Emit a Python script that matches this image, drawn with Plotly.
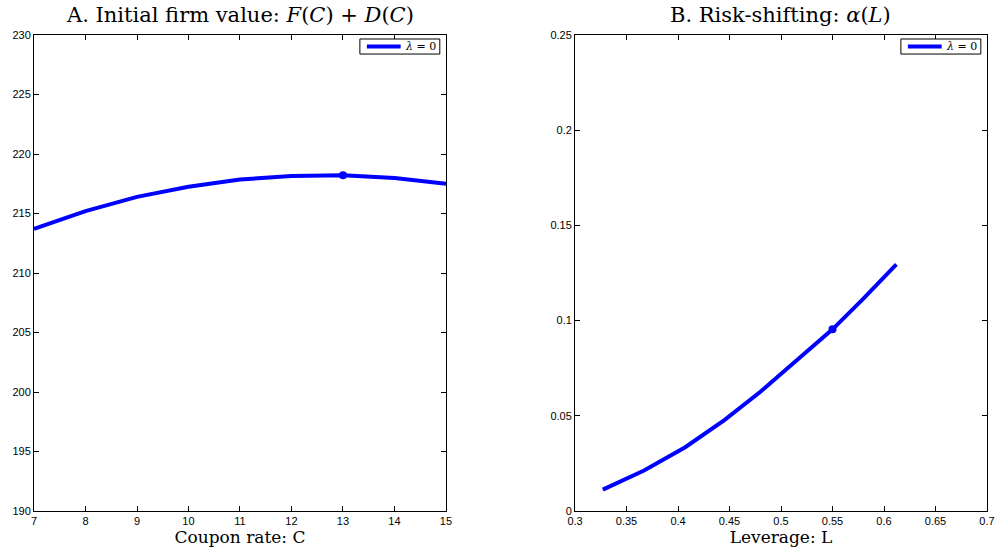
import plotly.graph_objects as go

# Panel A data
coupon = [7, 8, 9, 10, 11, 12, 13, 14, 15]
firm_value = [213.7, 215.2, 216.4, 217.25, 217.85, 218.15, 218.22, 217.98, 217.5]
opt_coupon = [13]
opt_value = [218.22]

# Panel B data
leverage = [0.327, 0.367, 0.407, 0.445, 0.48, 0.515, 0.55, 0.58, 0.612]
alpha = [0.0112, 0.0213, 0.0335, 0.0477, 0.0626, 0.0792, 0.0954, 0.1115, 0.1295]
opt_lev = [0.55]
opt_alpha = [0.0954]

legend_label = "<i>λ</i> = 0"
titles = ["A. Initial firm value: <i>F</i>(<i>C</i>) + <i>D</i>(<i>C</i>)",
          "B. Risk-shifting: <i>α</i>(<i>L</i>)"]

blue = "#0000FF"
fig = go.Figure()
fig.add_trace(go.Scatter(x=coupon, y=firm_value, mode="lines", line=dict(color=blue, width=4),
                         name=legend_label, showlegend=False, xaxis="x", yaxis="y"))
fig.add_trace(go.Scatter(x=opt_coupon, y=opt_value, mode="markers", marker=dict(color=blue, size=8),
                         showlegend=False, xaxis="x", yaxis="y"))
fig.add_trace(go.Scatter(x=leverage, y=alpha, mode="lines", line=dict(color=blue, width=4),
                         name=legend_label, showlegend=False, xaxis="x2", yaxis="y2"))
fig.add_trace(go.Scatter(x=opt_lev, y=opt_alpha, mode="markers", marker=dict(color=blue, size=8),
                         showlegend=False, xaxis="x2", yaxis="y2"))

axis_common = dict(showline=True, linecolor="black", linewidth=1, mirror="ticks", ticks="inside",
                   ticklen=5, tickcolor="black", showgrid=False, zeroline=False, automargin=False,
                   tickfont=dict(family="Liberation Sans, Arial", size=11, color="black"))
serif = "DejaVu Serif, Liberation Serif, serif"
title_font = dict(family=serif, size=17, color="black")

shapes = []
annotations = []
for xr, yr, text in [("x domain", "y domain", legend_label), ("x2 domain", "y2 domain", legend_label)]:
    shapes.append(dict(type="rect", xref=xr, yref=yr, x0=0.791, x1=0.985, y0=0.960, y1=0.9916,
                       line=dict(color="black", width=1), fillcolor="white", layer="above"))
    shapes.append(dict(type="line", xref=xr, yref=yr, x0=0.808, x1=0.890, y0=0.9758, y1=0.9758,
                       line=dict(color=blue, width=4), layer="above"))
    annotations.append(dict(text=text, xref=xr, yref=yr, x=0.895, y=0.9758, xanchor="left",
                            yanchor="middle", showarrow=False,
                            font=dict(family=serif, size=11, color="black")))

for xc, t in zip([0.2161, 0.7838], titles):
    annotations.append(dict(text=t, x=xc, y=1, xref="paper", yref="paper", xanchor="center",
                            yanchor="bottom", yshift=6, showarrow=False,
                            font=dict(family=serif, size=21, color="black")))

fig.update_layout(
    width=997, height=554,
    margin=dict(l=34, r=10, t=35, b=43, autoexpand=False),
    plot_bgcolor="white", paper_bgcolor="white",
    showlegend=False,
    xaxis=dict(domain=[0, 0.4323], range=[7, 15], tickvals=coupon,
               title=dict(text="Coupon rate: C", font=title_font, standoff=3), **axis_common),
    yaxis=dict(domain=[0, 1], range=[190, 230], tickvals=list(range(190, 231, 5)), **axis_common),
    xaxis2=dict(domain=[0.5677, 1], range=[0.3, 0.7], anchor="y2",
                tickvals=[0.3, 0.35, 0.4, 0.45, 0.5, 0.55, 0.6, 0.65, 0.7],
                ticktext=["0.3", "0.35", "0.4", "0.45", "0.5", "0.55", "0.6", "0.65", "0.7"],
                title=dict(text="Leverage: L", font=title_font, standoff=3), **axis_common),
    yaxis2=dict(domain=[0, 1], range=[0, 0.25], anchor="x2",
                tickvals=[0, 0.05, 0.1, 0.15, 0.2, 0.25],
                ticktext=["0", "0.05", "0.1", "0.15", "0.2", "0.25"], **axis_common),
    shapes=shapes,
    annotations=annotations,
)

fig.write_html("out.html", config={"displayModeBar": False},
               post_script="document.body.style.margin='0';document.body.style.overflow='hidden';")
